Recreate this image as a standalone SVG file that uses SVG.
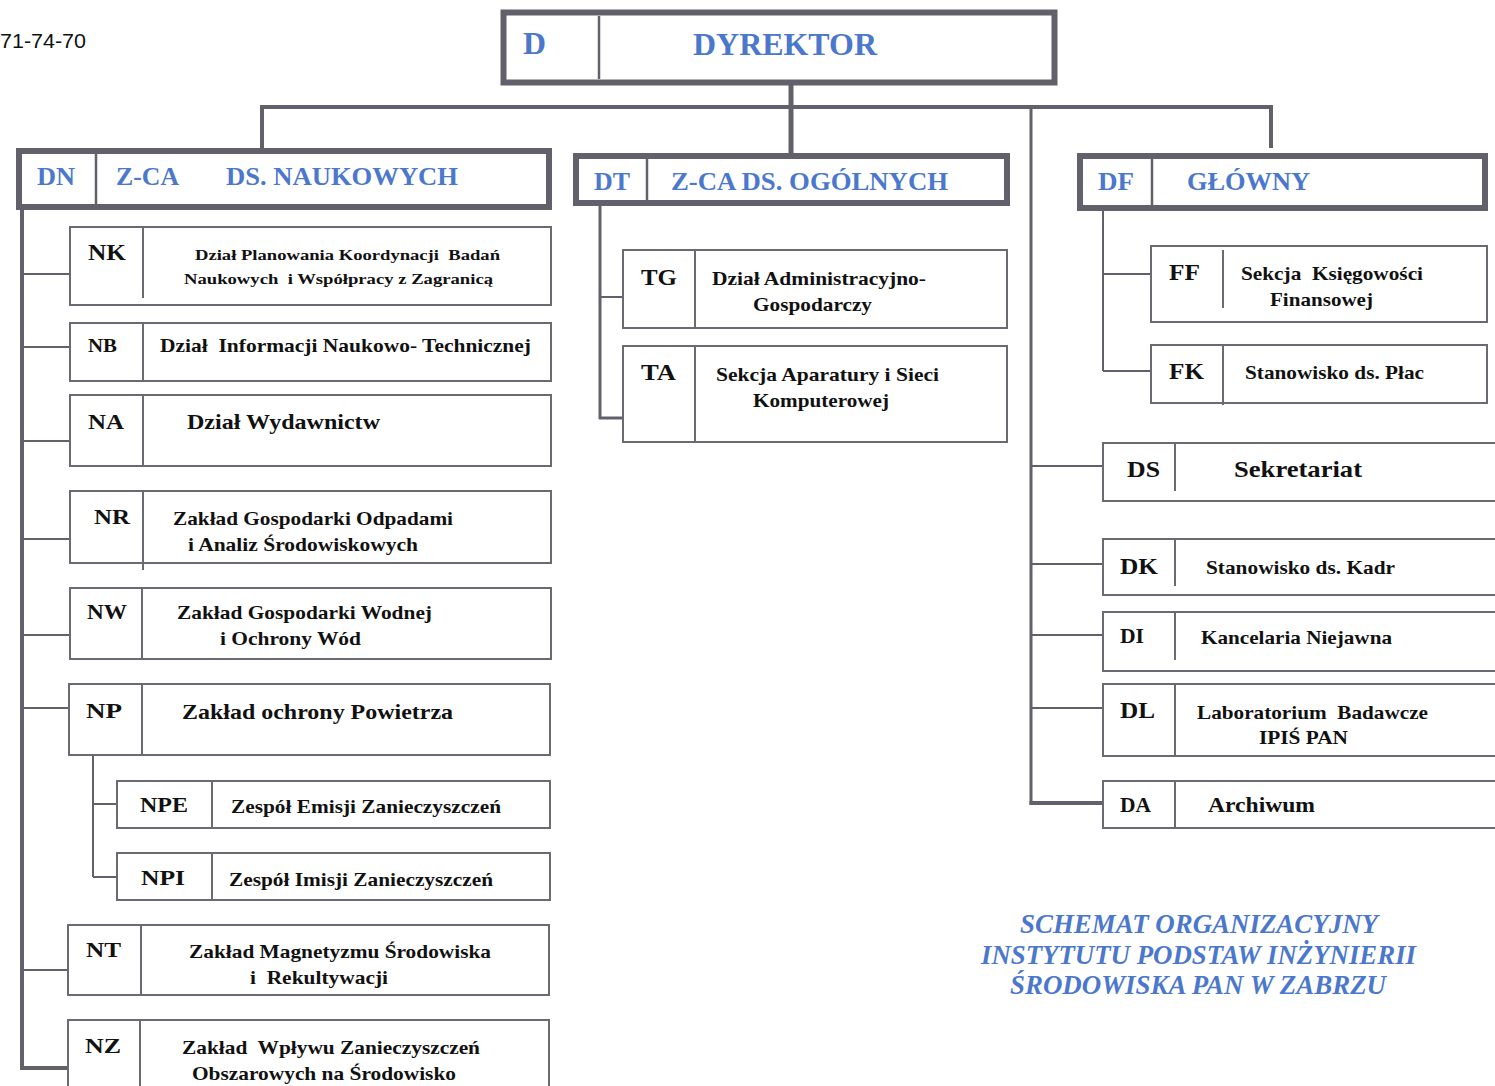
<svg xmlns="http://www.w3.org/2000/svg" width="1495" height="1086" viewBox="0 0 1495 1086">
<style>
.hdr{fill:#fff;stroke:#62616b;stroke-width:6}
.box{fill:#fff;stroke:#6a6a72;stroke-width:2}
.div{stroke:#6a6a72;stroke-width:2}
.hdiv{stroke:#62616b;stroke-width:2.5}
.c{stroke:#62616b;fill:none}
.b{font-family:"Liberation Serif","Times New Roman",serif;font-weight:bold;fill:#4b78cc}
.t{font-family:"Liberation Serif","Times New Roman",serif;font-weight:bold;fill:#111;white-space:pre}
.title{font-family:"Liberation Serif","Times New Roman",serif;font-weight:bold;font-style:italic;fill:#4b78cc;font-size:27px}
</style>
<rect width="1495" height="1086" fill="#fff"/>
<text x="0" y="48" font-family="Liberation Sans, Arial, sans-serif" font-size="20" fill="#111" textLength="86" lengthAdjust="spacingAndGlyphs">71-74-70</text>

<g id="connectors">
<line class="c" x1="791" y1="84" x2="791" y2="154" stroke-width="5"/>
<line class="c" x1="260" y1="107" x2="1273" y2="107" stroke-width="4"/>
<line class="c" x1="262" y1="107" x2="262" y2="149" stroke-width="4"/>
<line class="c" x1="1271" y1="107" x2="1271" y2="148" stroke-width="4"/>
<line class="c" x1="1031" y1="107" x2="1031" y2="805" stroke-width="3"/>
<line class="c" x1="1029.5" y1="803" x2="1103" y2="803" stroke-width="4"/>
<line class="c" x1="1031" y1="466" x2="1103" y2="466" stroke-width="2"/>
<line class="c" x1="1031" y1="564" x2="1103" y2="564" stroke-width="2"/>
<line class="c" x1="1031" y1="635" x2="1103" y2="635" stroke-width="2"/>
<line class="c" x1="1031" y1="708" x2="1103" y2="708" stroke-width="2"/>
<line class="c" x1="22" y1="206" x2="22" y2="1070" stroke-width="4"/>
<line class="c" x1="20" y1="1068" x2="68" y2="1068" stroke-width="4"/>
<line class="c" x1="22" y1="274" x2="70" y2="274" stroke-width="2"/>
<line class="c" x1="22" y1="347" x2="70" y2="347" stroke-width="2"/>
<line class="c" x1="22" y1="441" x2="70" y2="441" stroke-width="2"/>
<line class="c" x1="22" y1="539" x2="70" y2="539" stroke-width="2"/>
<line class="c" x1="22" y1="635" x2="70" y2="635" stroke-width="2"/>
<line class="c" x1="22" y1="708" x2="70" y2="708" stroke-width="2"/>
<line class="c" x1="22" y1="970" x2="68" y2="970" stroke-width="2"/>
<line class="c" x1="93" y1="755" x2="93" y2="877" stroke-width="2"/>
<line class="c" x1="93" y1="804" x2="117" y2="804" stroke-width="2"/>
<line class="c" x1="93" y1="877" x2="117" y2="877" stroke-width="2"/>
<line class="c" x1="600" y1="203" x2="600" y2="419" stroke-width="3"/>
<line class="c" x1="600" y1="297" x2="623" y2="297" stroke-width="2"/>
<line class="c" x1="599" y1="418" x2="623" y2="418" stroke-width="3"/>
<line class="c" x1="1103" y1="203" x2="1103" y2="371" stroke-width="2"/>
<line class="c" x1="1103" y1="274" x2="1151" y2="274" stroke-width="2"/>
<line class="c" x1="1103" y1="371" x2="1151" y2="371" stroke-width="2"/>
</g>

<g id="D">
<rect class="hdr" x="503.5" y="12.5" width="551" height="70" stroke-width="7"/>
<line class="hdiv" x1="599" y1="16" x2="599" y2="79"/>
<text class="b" x="523" y="54" font-size="32" textLength="23" lengthAdjust="spacingAndGlyphs">D</text>
<text class="b" x="693" y="55" font-size="32" textLength="184" lengthAdjust="spacingAndGlyphs">DYREKTOR</text>
</g>

<g id="DN">
<rect class="hdr" x="19" y="151" width="530" height="56"/>
<line class="hdiv" x1="96" y1="154" x2="96" y2="204"/>
<text class="b" x="37" y="185" font-size="26" textLength="38" lengthAdjust="spacingAndGlyphs">DN</text>
<text class="b" x="116" y="185" font-size="26" textLength="63" lengthAdjust="spacingAndGlyphs">Z-CA</text>
<text class="b" x="226" y="185" font-size="26" textLength="232" lengthAdjust="spacingAndGlyphs">DS. NAUKOWYCH</text>
</g>

<g id="DT">
<rect class="hdr" x="576" y="156" width="431" height="47"/>
<line class="hdiv" x1="647" y1="159" x2="647" y2="200"/>
<text class="b" x="594" y="190" font-size="26" textLength="36" lengthAdjust="spacingAndGlyphs">DT</text>
<text class="b" x="671" y="190" font-size="26" textLength="277" lengthAdjust="spacingAndGlyphs">Z-CA DS. OGÓLNYCH</text>
</g>

<g id="DF">
<rect class="hdr" x="1080" y="156" width="405" height="52"/>
<line class="hdiv" x1="1152" y1="159" x2="1152" y2="210"/>
<text class="b" x="1098" y="190" font-size="26" textLength="36" lengthAdjust="spacingAndGlyphs">DF</text>
<text class="b" x="1187" y="190" font-size="26" textLength="123" lengthAdjust="spacingAndGlyphs">GŁÓWNY</text>
</g>

<g id="NK">
<rect class="box" x="70" y="227" width="481" height="78"/>
<line class="div" x1="143" y1="227" x2="143" y2="298"/>
<text class="t" x="88" y="260" font-size="23" textLength="38" lengthAdjust="spacingAndGlyphs">NK</text>
<text class="t" x="195" y="260" font-size="15" textLength="305" lengthAdjust="spacingAndGlyphs">Dział Planowania Koordynacji  Badań</text>
<text class="t" x="184" y="284" font-size="15" textLength="309" lengthAdjust="spacingAndGlyphs">Naukowych  i Współpracy z Zagranicą</text>
</g>

<g id="NB">
<rect class="box" x="70" y="323" width="481" height="58"/>
<line class="div" x1="143" y1="323" x2="143" y2="381"/>
<text class="t" x="88" y="352" font-size="19" textLength="29" lengthAdjust="spacingAndGlyphs">NB</text>
<text class="t" x="160" y="352" font-size="19" textLength="371" lengthAdjust="spacingAndGlyphs">Dział  Informacji Naukowo- Technicznej</text>
</g>

<g id="NA">
<rect class="box" x="70" y="395" width="481" height="71"/>
<line class="div" x1="143" y1="395" x2="143" y2="466"/>
<text class="t" x="88" y="429" font-size="22" textLength="36" lengthAdjust="spacingAndGlyphs">NA</text>
<text class="t" x="187" y="429" font-size="22" textLength="193" lengthAdjust="spacingAndGlyphs">Dział Wydawnictw</text>
</g>

<g id="NR">
<rect class="box" x="70" y="491" width="481" height="72"/>
<line class="div" x1="143" y1="491" x2="143" y2="570"/>
<text class="t" x="94" y="524" font-size="22" textLength="36" lengthAdjust="spacingAndGlyphs">NR</text>
<text class="t" x="173" y="525" font-size="19" textLength="280" lengthAdjust="spacingAndGlyphs">Zakład Gospodarki Odpadami</text>
<text class="t" x="188" y="551" font-size="19" textLength="230" lengthAdjust="spacingAndGlyphs">i Analiz Środowiskowych</text>
</g>

<g id="NW">
<rect class="box" x="70" y="588" width="481" height="71"/>
<line class="div" x1="142" y1="588" x2="142" y2="659"/>
<text class="t" x="87" y="619" font-size="21" textLength="40" lengthAdjust="spacingAndGlyphs">NW</text>
<text class="t" x="177" y="619" font-size="19" textLength="255" lengthAdjust="spacingAndGlyphs">Zakład Gospodarki Wodnej</text>
<text class="t" x="220" y="645" font-size="19" textLength="141" lengthAdjust="spacingAndGlyphs">i Ochrony Wód</text>
</g>

<g id="NP">
<rect class="box" x="69" y="684" width="481" height="71"/>
<line class="div" x1="142" y1="684" x2="142" y2="755"/>
<text class="t" x="86" y="718" font-size="22" textLength="36" lengthAdjust="spacingAndGlyphs">NP</text>
<text class="t" x="182" y="719" font-size="21" textLength="271" lengthAdjust="spacingAndGlyphs">Zakład ochrony Powietrza</text>
</g>

<g id="NPE">
<rect class="box" x="117" y="781" width="433" height="47"/>
<line class="div" x1="212" y1="781" x2="212" y2="828"/>
<text class="t" x="140" y="812" font-size="21" textLength="48" lengthAdjust="spacingAndGlyphs">NPE</text>
<text class="t" x="231" y="813" font-size="19" textLength="270" lengthAdjust="spacingAndGlyphs">Zespół Emisji Zanieczyszczeń</text>
</g>

<g id="NPI">
<rect class="box" x="117" y="853" width="433" height="47"/>
<line class="div" x1="212" y1="853" x2="212" y2="900"/>
<text class="t" x="141" y="885" font-size="21" textLength="44" lengthAdjust="spacingAndGlyphs">NPI</text>
<text class="t" x="229" y="886" font-size="19" textLength="264" lengthAdjust="spacingAndGlyphs">Zespół Imisji Zanieczyszczeń</text>
</g>

<g id="NT">
<rect class="box" x="68" y="925" width="481" height="70"/>
<line class="div" x1="141" y1="925" x2="141" y2="995"/>
<text class="t" x="86" y="957" font-size="22" textLength="35" lengthAdjust="spacingAndGlyphs">NT</text>
<text class="t" x="189" y="958" font-size="19" textLength="302" lengthAdjust="spacingAndGlyphs">Zakład Magnetyzmu Środowiska</text>
<text class="t" x="250" y="984" font-size="19" textLength="138" lengthAdjust="spacingAndGlyphs">i  Rekultywacji</text>
</g>

<g id="NZ">
<rect class="box" x="68" y="1020" width="481" height="80"/>
<line class="div" x1="140" y1="1020" x2="140" y2="1090"/>
<text class="t" x="85" y="1053" font-size="22" textLength="36" lengthAdjust="spacingAndGlyphs">NZ</text>
<text class="t" x="182" y="1054" font-size="19" textLength="298" lengthAdjust="spacingAndGlyphs">Zakład  Wpływu Zanieczyszczeń</text>
<text class="t" x="192" y="1080" font-size="19" textLength="264" lengthAdjust="spacingAndGlyphs">Obszarowych na Środowisko</text>
</g>

<g id="TG">
<rect class="box" x="623" y="250" width="384" height="78"/>
<line class="div" x1="695" y1="250" x2="695" y2="328"/>
<text class="t" x="641" y="285" font-size="23" textLength="36" lengthAdjust="spacingAndGlyphs">TG</text>
<text class="t" x="712" y="285" font-size="19" textLength="214" lengthAdjust="spacingAndGlyphs">Dział Administracyjno-</text>
<text class="t" x="753" y="311" font-size="19" textLength="119" lengthAdjust="spacingAndGlyphs">Gospodarczy</text>
</g>

<g id="TA">
<rect class="box" x="623" y="346" width="384" height="96"/>
<line class="div" x1="695" y1="346" x2="695" y2="442"/>
<text class="t" x="641" y="380" font-size="23" textLength="35" lengthAdjust="spacingAndGlyphs">TA</text>
<text class="t" x="716" y="381" font-size="19" textLength="223" lengthAdjust="spacingAndGlyphs">Sekcja Aparatury i Sieci</text>
<text class="t" x="753" y="407" font-size="19" textLength="136" lengthAdjust="spacingAndGlyphs">Komputerowej</text>
</g>

<g id="FF">
<rect class="box" x="1151" y="246" width="336" height="76"/>
<line class="div" x1="1223" y1="250" x2="1223" y2="308"/>
<text class="t" x="1169" y="280" font-size="23" textLength="31" lengthAdjust="spacingAndGlyphs">FF</text>
<text class="t" x="1241" y="280" font-size="19" textLength="182" lengthAdjust="spacingAndGlyphs">Sekcja  Księgowości</text>
<text class="t" x="1270" y="306" font-size="19" textLength="103" lengthAdjust="spacingAndGlyphs">Finansowej</text>
</g>

<g id="FK">
<rect class="box" x="1151" y="345" width="336" height="58"/>
<line class="div" x1="1223" y1="345" x2="1223" y2="405"/>
<text class="t" x="1169" y="379" font-size="23" textLength="35" lengthAdjust="spacingAndGlyphs">FK</text>
<text class="t" x="1245" y="379" font-size="19" textLength="179" lengthAdjust="spacingAndGlyphs">Stanowisko ds. Płac</text>
</g>

<g id="DS">
<rect class="box" x="1103" y="443" width="400" height="58"/>
<line class="div" x1="1175" y1="443" x2="1175" y2="491"/>
<text class="t" x="1127" y="477" font-size="23" textLength="33" lengthAdjust="spacingAndGlyphs">DS</text>
<text class="t" x="1234" y="477" font-size="24" textLength="128" lengthAdjust="spacingAndGlyphs">Sekretariat</text>
</g>

<g id="DK">
<rect class="box" x="1103" y="539" width="400" height="56"/>
<line class="div" x1="1175" y1="539" x2="1175" y2="586"/>
<text class="t" x="1120" y="574" font-size="23" textLength="38" lengthAdjust="spacingAndGlyphs">DK</text>
<text class="t" x="1206" y="574" font-size="19" textLength="189" lengthAdjust="spacingAndGlyphs">Stanowisko ds. Kadr</text>
</g>

<g id="DI">
<rect class="box" x="1103" y="612" width="400" height="59"/>
<line class="div" x1="1175" y1="612" x2="1175" y2="660"/>
<text class="t" x="1120" y="643" font-size="21" textLength="24" lengthAdjust="spacingAndGlyphs">DI</text>
<text class="t" x="1201" y="644" font-size="19" textLength="191" lengthAdjust="spacingAndGlyphs">Kancelaria Niejawna</text>
</g>

<g id="DL">
<rect class="box" x="1103" y="684" width="400" height="72"/>
<line class="div" x1="1175" y1="684" x2="1175" y2="756"/>
<text class="t" x="1120" y="718" font-size="23" textLength="35" lengthAdjust="spacingAndGlyphs">DL</text>
<text class="t" x="1197" y="719" font-size="19" textLength="231" lengthAdjust="spacingAndGlyphs">Laboratorium  Badawcze</text>
<text class="t" x="1259" y="744" font-size="19" textLength="89" lengthAdjust="spacingAndGlyphs">IPIŚ PAN</text>
</g>

<g id="DA">
<rect class="box" x="1103" y="781" width="400" height="47"/>
<line class="div" x1="1175" y1="781" x2="1175" y2="828"/>
<text class="t" x="1120" y="812" font-size="21" textLength="31" lengthAdjust="spacingAndGlyphs">DA</text>
<text class="t" x="1208" y="812" font-size="21" textLength="107" lengthAdjust="spacingAndGlyphs">Archiwum</text>
</g>

<g id="title">
<text class="title" x="1020" y="933" textLength="358" lengthAdjust="spacingAndGlyphs">SCHEMAT ORGANIZACYJNY</text>
<text class="title" x="981" y="964" textLength="435" lengthAdjust="spacingAndGlyphs">INSTYTUTU PODSTAW INŻYNIERII</text>
<text class="title" x="1010" y="994" textLength="376" lengthAdjust="spacingAndGlyphs">ŚRODOWISKA PAN W ZABRZU</text>
</g>
</svg>
